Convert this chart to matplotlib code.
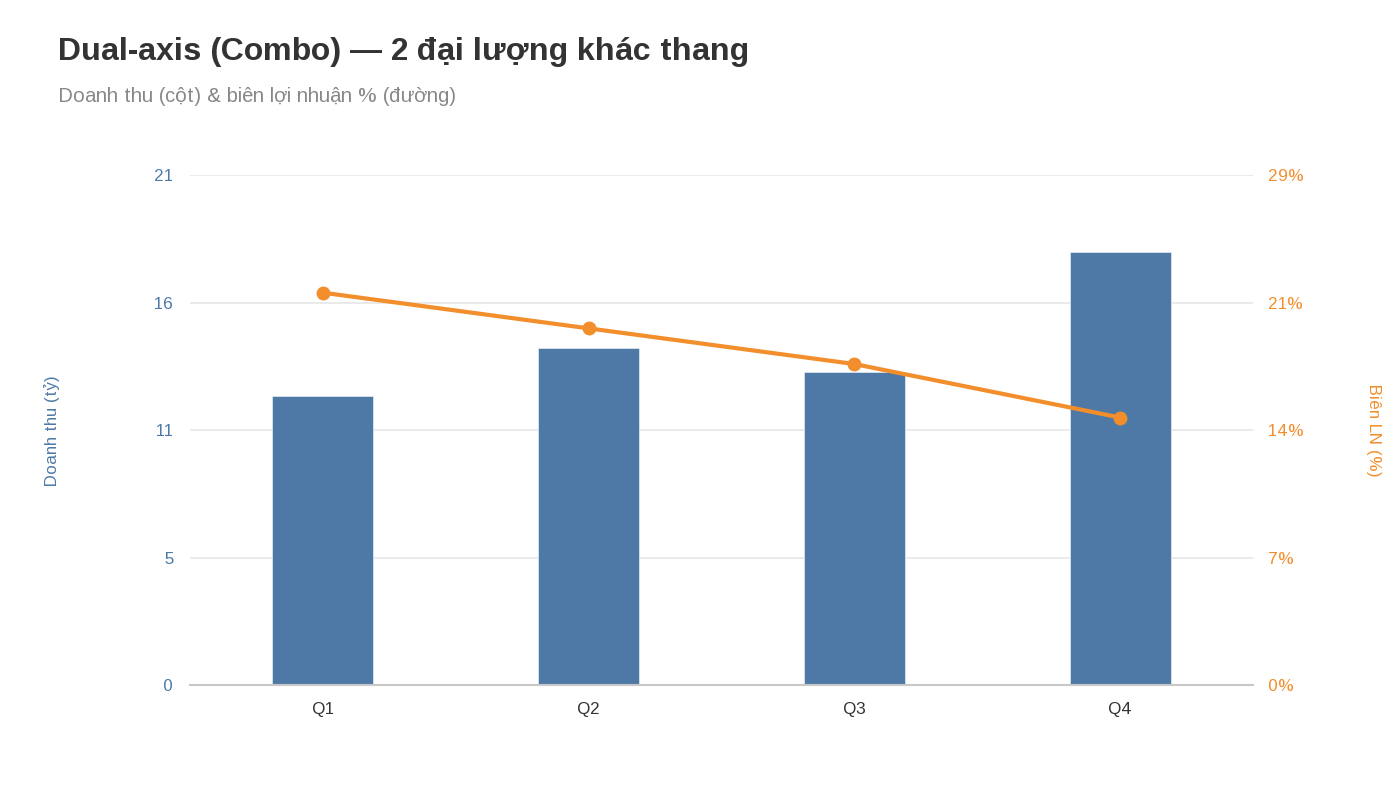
import numpy as np
import matplotlib
matplotlib.use("Agg")
import matplotlib.pyplot as plt

plt.rcParams['font.family'] = ['Liberation Sans', 'DejaVu Sans']
plt.rcParams['text.hinting_factor'] = 1

# data
quarters = ["Q1", "Q2", "Q3", "Q4"]
revenue = [12, 14, 13, 18]          # Doanh thu (tỷ)
margin = [22, 20, 18, 15]           # Biên LN (%)

left_max = 21.2
right_max = 28.6

BLUE = "#4E79A7"
ORANGE = "#F28E2B"

fig = plt.figure(figsize=(14, 7.87), dpi=100)
ax = fig.add_axes([190 / 1400, 1 - 685 / 787, (1253 - 190) / 1400, (685 - 175) / 787])
ax2 = ax.twinx()

x = np.arange(len(quarters))
ax.bar(x, revenue, width=0.38, color=BLUE, edgecolor="#dbe4ee", linewidth=0.6, zorder=2)
ax.set_xlim(-0.5, len(quarters) - 0.5)
ax.set_ylim(0, left_max)

lticks = np.linspace(0, left_max, 5)
ax.set_yticks(lticks)
ax.set_yticklabels([str(int(np.floor(v + 0.5))) for v in lticks])
ax.set_xticks(x)
ax.set_xticklabels(quarters)

ax2.plot(x, margin, color=ORANGE, linewidth=3, marker="o", markersize=9, zorder=3)
ax2.set_ylim(0, right_max)
rticks = np.linspace(0, right_max, 5)
ax2.set_yticks(rticks)
ax2.set_yticklabels([f"{int(np.floor(v + 0.5))}%" for v in rticks])

ax.grid(axis="y", color="#e6e6e6", linewidth=1.2, zorder=0)
ax.set_axisbelow(True)
for a in (ax, ax2):
    for s in a.spines.values():
        s.set_visible(False)
ax.spines["bottom"].set_visible(True)
ax.spines["bottom"].set_color("#c8c8c8")
ax.spines["bottom"].set_linewidth(1.5)

ax.tick_params(axis="y", length=0, pad=12, labelsize=12, labelcolor=BLUE)
ax.tick_params(axis="x", length=0, pad=12, labelsize=12, labelcolor="#333333")
ax2.tick_params(axis="y", length=0, pad=11, labelsize=12, labelcolor=ORANGE)

ax.set_zorder(ax2.get_zorder() - 1)
ax2.patch.set_visible(False)

fig.text(52 / 1400, 1 - 430 / 787, "Doanh thu (tỷ)", rotation=90, ha="center", va="center",
         fontsize=12, color=BLUE)
fig.text(1373 / 1400, 1 - 430 / 787, "Biên LN (%)", rotation=-90, ha="center", va="center",
         fontsize=12, color=ORANGE)

fig.text(58 / 1400, 1 - 52 / 787, "Dual-axis (Combo) — 2 đại lượng khác thang", ha="left", va="center",
         fontsize=23, fontweight="bold", color="#333333")
fig.text(58 / 1400, 1 - 97 / 787, "Doanh thu (cột) & biên lợi nhuận % (đường)", ha="left", va="center",
         fontsize=14.7, color="#888888")

fig.savefig("out.png", dpi=100, facecolor="white")
